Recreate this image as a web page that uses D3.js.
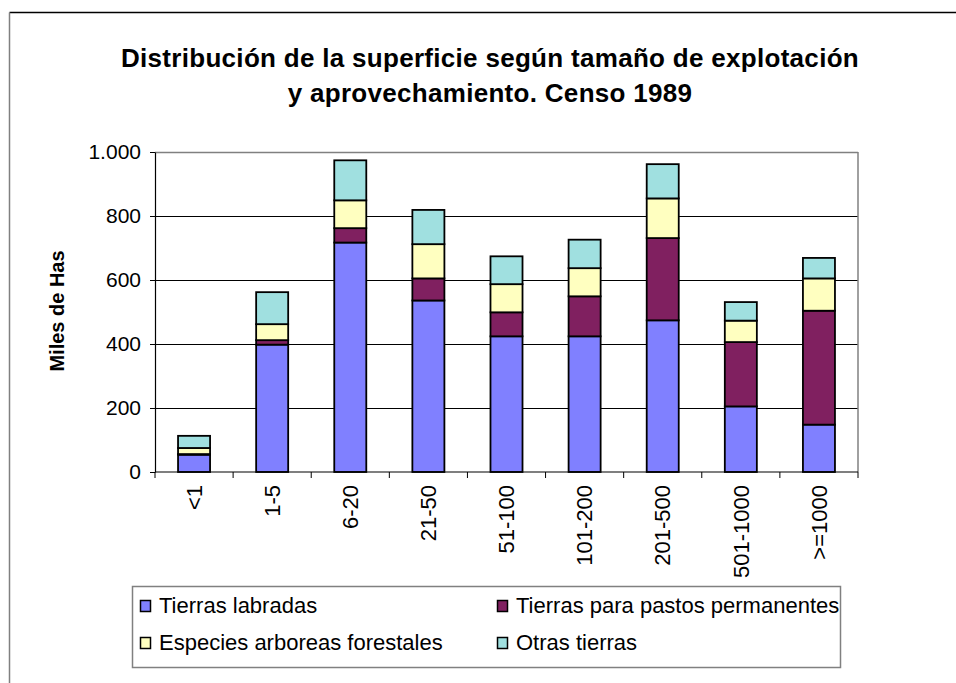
<!DOCTYPE html>
<html>
<head>
<meta charset="utf-8">
<script src="https://cdn.jsdelivr.net/npm/d3@7"></script>
<style>
  body { margin: 0; background: #fff; }
  svg { display: block; font-family: "Liberation Sans", Arial, sans-serif; }
</style>
</head>
<body>
<svg id="chart" width="956" height="683"></svg>
<script>
// tamaño de explotación (has)
let categories = ['<1', '1-5', '6-20', '21-50', '51-100', '101-200', '201-500', '501-1000', '>=1000']
// miles de has
let labradas = [54, 398, 717, 536, 424, 424, 474, 205, 148]
let pastos = [2, 14, 45, 69, 75, 125, 257, 201, 356]
let especies = [19, 50, 87, 107, 88, 88, 124, 67, 101]
let otras = [38, 100, 125, 107, 87, 89, 107, 58, 64]

let seriesNames = ['Tierras labradas', 'Tierras para pastos permanentes', 'Especies arboreas forestales', 'Otras tierras']
let seriesKeys = ['labradas', 'pastos', 'especies', 'otras']
let colors = ['#8080ff', '#802060', '#ffffc0', '#a0e0e0']
let yTicks = [0, 200, 400, 600, 800, 1000]

let title1 = 'Distribución de la superficie según tamaño de explotación'
let title2 = 'y aprovechamiento. Censo 1989'

let svg = d3.select('#chart')

// marco exterior
svg.append('line').attr('x1', 9.5).attr('x2', 956).attr('y1', 12.5).attr('y2', 12.5)
  .attr('stroke', '#000').attr('stroke-width', 1.5)
svg.append('line').attr('x1', 9.5).attr('x2', 9.5).attr('y1', 12.5).attr('y2', 683)
  .attr('stroke', '#808080').attr('stroke-width', 1.5)

let margin = { left: 155, right: 858, top: 152, bottom: 472 }

let tableData = categories.map((c, i) => ({
  cat: c,
  labradas: labradas[i],
  pastos: pastos[i],
  especies: especies[i],
  otras: otras[i]
}))

let x = d3.scaleBand()
  .domain(categories)
  .range([margin.left, margin.right])
  .paddingInner(0.59)
  .paddingOuter(0.295)

let y = d3.scaleLinear()
  .domain([0, 1000])
  .range([margin.bottom, margin.top])

let esLocale = d3.formatLocale({ decimal: ',', thousands: '.', grouping: [3], currency: ['', ''] })
let fmt = esLocale.format(',')

// titulo
svg.append('text').attr('x', 490).attr('y', 67).attr('text-anchor', 'middle')
  .attr('font-size', 26).attr('font-weight', 'bold').attr('letter-spacing', 0.3).text(title1)
svg.append('text').attr('x', 490).attr('y', 102).attr('text-anchor', 'middle')
  .attr('font-size', 26).attr('font-weight', 'bold').attr('letter-spacing', 0.3).text(title2)

// rejilla
svg.append('g')
  .selectAll('line')
  .data(yTicks.filter(d => d > 0))
  .enter()
  .append('line')
  .attr('x1', margin.left).attr('x2', margin.right)
  .attr('y1', d => Math.round(y(d)) + 0.5).attr('y2', d => Math.round(y(d)) + 0.5)
  .attr('stroke', d => d === 1000 ? '#808080' : '#000')
  .attr('stroke-width', d => d === 1000 ? 1.5 : 1)

// borde derecho del area de trazado
svg.append('line')
  .attr('x1', margin.right).attr('x2', margin.right)
  .attr('y1', margin.top).attr('y2', margin.bottom)
  .attr('stroke', '#808080').attr('stroke-width', 1.5)

// barras apiladas
let stack = d3.stack().keys(seriesKeys)
let stacked = stack(tableData)

svg.append('g')
  .selectAll('g')
  .data(stacked)
  .enter()
  .append('g')
  .attr('fill', (d, i) => colors[i])
  .selectAll('rect')
  .data(d => d)
  .enter()
  .append('rect')
  .attr('x', d => x(d.data.cat))
  .attr('width', x.bandwidth())
  .attr('y', d => y(d[1]))
  .attr('height', d => y(d[0]) - y(d[1]))
  .attr('stroke', '#000')
  .attr('stroke-width', 1.8)

// eje Y
let yAxis = svg.append('g')
  .attr('transform', 'translate(' + margin.left + ',0)')
  .call(d3.axisLeft(y).tickValues(yTicks).tickFormat(fmt).tickSizeInner(5).tickSizeOuter(0).tickPadding(9))
yAxis.select('.domain').attr('stroke', '#000').attr('stroke-width', 1.2)
yAxis.selectAll('.tick line').attr('stroke', '#000')
yAxis.selectAll('.tick text').attr('font-size', 21).attr('fill', '#000')
  .attr('font-family', '"Liberation Sans", Arial, sans-serif')

// eje X
let step = x.step()
let xTickPos = d3.range(categories.length + 1).map(i => margin.left + i * step)
svg.append('line')
  .attr('x1', margin.left).attr('x2', margin.right)
  .attr('y1', margin.bottom).attr('y2', margin.bottom)
  .attr('stroke', '#000').attr('stroke-width', 1.2)
svg.append('g')
  .selectAll('line')
  .data(xTickPos)
  .enter()
  .append('line')
  .attr('x1', d => d).attr('x2', d => d)
  .attr('y1', margin.bottom).attr('y2', margin.bottom + 6)
  .attr('stroke', '#000')

svg.append('g')
  .selectAll('text')
  .data(categories)
  .enter()
  .append('text')
  .attr('transform', d => 'translate(' + (x(d) + x.bandwidth() / 2) + ',' + (margin.bottom + 13) + ') rotate(-90)')
  .attr('text-anchor', 'end')
  .attr('dy', '0.35em')
  .attr('font-size', 22)
  .text(d => d)

// titulo eje Y
svg.append('text')
  .attr('transform', 'translate(64,311) rotate(-90)')
  .attr('text-anchor', 'middle')
  .attr('font-size', 20)
  .attr('font-weight', 'bold')
  .text('Miles de Has')

// leyenda
let legend = svg.append('g')
legend.append('rect')
  .attr('x', 132.5).attr('y', 586.5).attr('width', 708).attr('height', 81)
  .attr('fill', 'none').attr('stroke', '#808080').attr('stroke-width', 1.5)

let legendPos = [[140, 606], [497, 606], [140, 643], [497, 643]]
seriesNames.forEach((name, i) => {
  let p = legendPos[i]
  legend.append('rect')
    .attr('x', p[0] + 0.5).attr('y', p[1] - 5.5).attr('width', 10).attr('height', 11)
    .attr('fill', colors[i]).attr('stroke', '#000').attr('stroke-width', 1.5)
  legend.append('text')
    .attr('x', p[0] + 19).attr('y', p[1] + 7)
    .attr('font-size', 22)
    .text(name)
})
</script>
</body>
</html>
